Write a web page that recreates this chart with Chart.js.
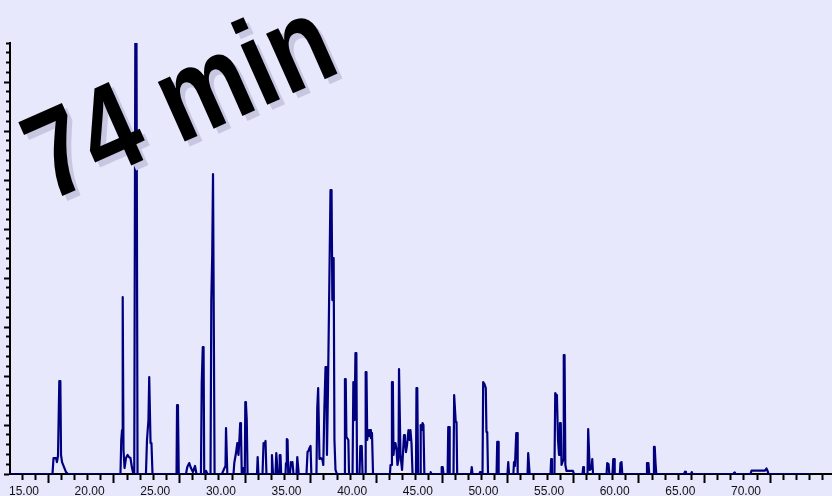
<!DOCTYPE html>
<html>
<head>
<meta charset="utf-8">
<title>Chromatogram – 74 min run</title>
<script src="https://cdn.jsdelivr.net/npm/chart.js@4.4.1/dist/chart.umd.min.js"></script>
<style>
  html, body { margin: 0; padding: 0; background: #e8e8fd; }
  canvas { display: block; }
</style>
</head>
<body>
<canvas id="chart" width="832" height="496"></canvas>
<script>
// Retention time of each trace vertex (min)
const retentionTime = [
  13.93,
  17.17, 17.25, 17.44, 17.51, 17.59, 17.69, 17.77, 17.82, 17.90, 18.05, 18.20, 18.35,
  22.35, 22.41, 22.47, 22.50, 22.54, 22.58, 22.66, 22.77, 22.89, 23.00, 23.11, 23.23, 23.30,
  23.40, 23.48, 23.57, 23.65,
  24.29, 24.37, 24.48, 24.54, 24.58, 24.64, 24.71, 24.79,
  26.62, 26.66, 26.73, 26.79,
  27.34, 27.44, 27.59, 27.72, 27.87, 28.03, 28.14,
  28.48, 28.54, 28.62, 28.68, 28.73, 28.87, 28.98,
  29.21, 29.27, 29.34, 29.40, 29.47, 29.52,
  30.08, 30.24, 30.35, 30.39, 30.44, 30.49,
  30.96, 31.02, 31.15, 31.25, 31.34, 31.42, 31.47, 31.53, 31.59, 31.72, 31.82, 31.86, 31.91, 31.97, 32.03,
  32.75, 32.80, 32.86, 33.17, 33.25, 33.32, 33.40, 33.47, 33.82, 33.89, 33.97,
  34.16, 34.22, 34.27, 34.33, 34.43, 34.48, 34.54, 34.59,
  34.92, 34.96, 35.02, 35.08, 35.13, 35.26, 35.33, 35.40, 35.45, 35.53, 35.76, 35.82, 35.87, 35.93,
  36.52, 36.60, 36.67, 36.75, 36.83, 36.89,
  37.28, 37.34, 37.41, 37.47, 37.51, 37.63, 37.74, 37.80, 37.88, 37.97, 38.03, 38.08, 38.16, 38.35, 38.43, 38.49, 38.54, 38.59, 38.65, 38.73, 38.84,
  39.39, 39.45, 39.51, 39.56, 39.71, 39.76,
  40.03, 40.09, 40.14, 40.18, 40.25, 40.32, 40.37,
  40.56, 40.62, 40.67, 40.73, 40.79,
  40.98, 41.03, 41.09, 41.15, 41.21, 41.28, 41.36, 41.43, 41.51, 41.59,
  42.88, 42.92, 43.00, 43.03, 43.10, 43.15, 43.23, 43.30, 43.38, 43.45, 43.53, 43.57, 43.63, 43.68, 43.80,
  43.95, 44.02, 44.10, 44.18, 44.29, 44.37, 44.44, 44.52, 44.60,
  44.86, 44.90, 44.96, 45.02,
  45.17, 45.22, 45.30, 45.36, 45.43, 45.50,
  45.93, 45.98, 46.04, 46.77, 46.82, 46.90, 46.96,
  47.27, 47.32, 47.38, 47.43,
  47.72, 47.77, 47.83, 47.89, 47.95, 48.00,
  49.05, 49.11, 49.17, 49.70, 49.74, 49.79,
  49.93, 49.98, 50.08, 50.18, 50.23, 50.29, 50.35,
  51.00, 51.05, 51.11, 51.16,
  51.83, 51.89, 51.95, 52.28, 52.33, 52.40, 52.50, 52.56, 52.61,
  53.36, 53.41, 53.47, 53.52,
  55.11, 55.16, 55.22,
  55.41, 55.47, 55.54, 55.60, 55.68, 55.76, 55.83, 55.89, 55.95, 56.08, 56.12, 56.18, 56.24, 56.33, 56.82, 56.90,
  57.55, 57.60, 57.66,
  57.93, 57.98, 58.04, 58.10, 58.24, 58.29, 58.35,
  59.38, 59.43, 59.53, 59.59, 59.83, 59.89, 59.95, 60.00, 60.39, 60.44, 60.52, 60.58,
  62.41, 62.46, 62.57, 62.63, 62.94, 62.99, 63.05, 63.11, 63.17,
  65.28, 65.36, 65.43, 65.81, 65.87, 65.93,
  69.05, 69.11, 69.16,
  70.35, 70.42, 71.45, 71.56, 71.64, 71.72,
  74.88
];

// Detector response at each vertex (arbitrary units)
const abundance = [
  0,
  0, 1.63, 1.63, 1.22, 1.84, 9.49, 9.49, 1.94, 1.22, 0.71, 0.20, 0,
  0, 3.47, 4.49, 18.06, 18.06, 2.45, 0.61, 1.63, 1.94, 1.73, 1.63, 0.61, 0.20,
  0, 44, 44, 0,
  0, 3.47, 5.51, 9.90, 9.90, 3.16, 3.16, 0,
  0, 7.04, 6.53, 0,
  0, 0.71, 1.12, 0.61, 0.20, 0.82, 0,
  0, 9.29, 12.96, 12.96, 0, 0.31, 0,
  0, 17.76, 22.35, 30.61, 30.61, 0,
  0, 0.51, 0.82, 4.69, 4.69, 0,
  0, 1.12, 2.14, 3.16, 1.94, 3.78, 5.20, 4.49, 0, 0.61, 0, 7.35, 7.14, 5.51, 0,
  0, 1.73, 0, 0, 3.16, 2.96, 3.37, 0, 0, 1.94, 0,
  0, 2.14, 2.14, 0, 0, 1.94, 1.94, 0,
  0, 1.12, 3.57, 3.47, 0, 0, 1.22, 1.02, 1.22, 0, 0, 1.73, 1.73, 0,
  0, 2.24, 2.35, 2.65, 2.86, 0,
  0, 6.73, 8.78, 8.78, 1.53, 1.63, 1.43, 0.92, 6.53, 10.92, 10.92, 1.94, 8.88, 28.98, 28.98, 17.76, 22.04, 22.04, 3.47, 0.41, 0,
  0, 9.69, 9.69, 3.78, 3.47, 0,
  0, 9.39, 8.57, 5.51, 12.35, 12.35, 0,
  0, 2.86, 2.45, 2.86, 0,
  0, 10.41, 10.41, 3.47, 4.49, 3.88, 4.49, 3.67, 4.18, 0,
  0, 0.92, 0.92, 9.39, 9.39, 1.94, 3.16, 3.16, 2.45, 0.92, 1.43, 10.71, 10.71, 1.94, 0.41,
  3.98, 3.47, 2.24, 2.96, 4.49, 3.47, 4.49, 3.16, 0,
  0, 8.78, 8.78, 0,
  0, 5.00, 4.49, 5.20, 5.00, 0,
  0, 0.20, 0, 0, 0.71, 0.71, 0,
  0, 4.80, 4.80, 0,
  0, 8.06, 8.06, 5.31, 5.31, 0,
  0, 0.71, 0, 0, 0.20, 0,
  0, 9.39, 9.18, 8.78, 4.29, 4.29, 0,
  0, 3.27, 3.27, 0,
  0, 1.22, 0, 0, 1.22, 0.82, 4.18, 4.18, 0,
  0, 2.14, 2.14, 0,
  0, 1.53, 0,
  0, 8.27, 8.06, 7.86, 3.47, 1.94, 5.20, 5.20, 0.92, 1.43, 12.14, 12.14, 0.92, 0.31, 0.31, 0,
  0, 0.71, 0,
  0, 4.59, 4.59, 0.41, 0.61, 1.53, 0,
  0, 1.12, 1.02, 0, 0, 1.53, 1.53, 0, 0, 1.12, 1.22, 0,
  0, 1.12, 1.12, 0, 0, 2.76, 2.76, 1.12, 0,
  0, 0.23, 0, 0, 0.20, 0,
  0, 0.15, 0,
  0, 0.34, 0.34, 0.56, 0.34, 0,
  0
];

// Labelled retention times along the bottom axis
const timeLabels = [15, 20, 25, 30, 35, 40, 45, 50, 55, 60, 65, 70];
// Axis extents
const timeRange = [13.934, 76.554];
const responseRange = [0, 44];
// Tick marks: one per minute (long every fifth) and one per response unit (long every fifth)
const firstMinuteTick = 14.85;
const longMinuteTick = 16.85;
const runLength = '74 min';

const minuteTicks = [];
for (let t = firstMinuteTick; t < timeRange[1]; t += 1) minuteTicks.push(+t.toFixed(2));
const responseTicks = [];
for (let v = responseRange[0]; v <= responseRange[1]; v += 1) responseTicks.push(v);

const isLongMinute = v => {
  const r = ((v - longMinuteTick) % 5 + 5) % 5;
  return r < 0.01 || 5 - r < 0.01;
};

const backdrop = {
  id: 'backdrop',
  beforeDraw(chart) {
    const { ctx, width, height } = chart;
    ctx.save();
    ctx.fillStyle = '#e8e8fd';
    ctx.fillRect(0, 0, width, height);
    ctx.restore();
  }
};

// Big slanted run-length stamp with a soft drop shadow, painted over the trace
const stamp = {
  id: 'stamp',
  afterDraw(chart) {
    const ctx = chart.ctx;
    const paint = (dx, dy, colour) => {
      ctx.save();
      ctx.translate(49 + dx, 202 + dy);
      ctx.rotate(-24 * Math.PI / 180);
      ctx.scale(0.82, 1);
      ctx.font = 'bold 124px "Liberation Sans", Arial, sans-serif';
      ctx.textAlign = 'left';
      ctx.textBaseline = 'alphabetic';
      ctx.fillStyle = colour;
      ctx.fillText(runLength, 0, 0);
      ctx.restore();
    };
    paint(5, 5, '#c7c7e2');
    paint(0, 0, '#000000');
  }
};

new Chart(document.getElementById('chart'), {
  type: 'line',
  data: {
    datasets: [{
      data: retentionTime.map((t, i) => ({ x: t, y: abundance[i] })),
      borderColor: '#00007f',
      borderWidth: 2.2,
      borderJoinStyle: 'round',
      pointRadius: 0,
      tension: 0,
      fill: false
    }]
  },
  options: {
    responsive: false,
    animation: false,
    events: [],
    layout: { padding: { top: 43, left: 0, right: 0, bottom: 0 } },
    plugins: { legend: { display: false }, tooltip: { enabled: false }, title: { display: false } },
    scales: {
      x: {
        type: 'linear',
        position: 'bottom',
        weight: 0,
        min: timeRange[0],
        max: timeRange[1],
        afterBuildTicks: s => { s.ticks = minuteTicks.map(v => ({ value: v })); },
        afterFit: s => { s.height = 7; },
        ticks: { display: false, autoSkip: false },
        grid: {
          display: true,
          drawOnChartArea: false,
          drawTicks: true,
          tickLength: 9,
          tickColor: '#000000',
          tickWidth: 2,
          tickBorderDash: c => isLongMinute(c.tick.value) ? [] : [5, 20]
        },
        border: { display: true, color: '#000000', width: 2 }
      },
      xLabels: {
        type: 'linear',
        position: 'bottom',
        weight: 1,
        min: timeRange[0],
        max: timeRange[1],
        afterBuildTicks: s => { s.ticks = timeLabels.map(v => ({ value: v })); },
        afterFit: s => { s.height = 15; },
        ticks: {
          display: true,
          autoSkip: false,
          maxRotation: 0,
          padding: 3,
          color: '#111111',
          font: { family: '"Liberation Sans Narrow", "Liberation Sans", Arial, sans-serif', size: 12 },
          callback: v => Number(v).toFixed(2)
        },
        grid: { display: false, drawTicks: false },
        border: { display: false }
      },
      y: {
        type: 'linear',
        position: 'left',
        min: responseRange[0],
        max: responseRange[1],
        afterBuildTicks: s => { s.ticks = responseTicks.map(v => ({ value: v })); },
        afterFit: s => { s.width = 10; },
        ticks: { display: false, autoSkip: false },
        grid: {
          display: true,
          drawOnChartArea: false,
          drawTicks: true,
          tickLength: 6,
          tickColor: '#000000',
          tickWidth: 2,
          tickBorderDash: c => c.tick.value % 5 === 0 ? [] : [3, 2],
          tickBorderDashOffset: c => c.tick.value % 5 === 0 ? 0 : 3
        },
        border: { display: true, color: '#000000', width: 2 }
      }
    }
  },
  plugins: [backdrop, stamp]
});
</script>
</body>
</html>
